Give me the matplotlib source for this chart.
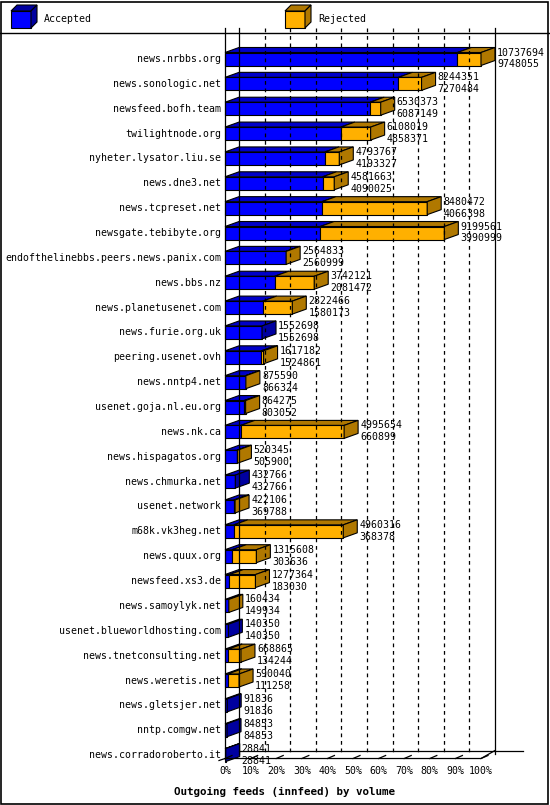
import matplotlib
matplotlib.use("Agg")
import matplotlib.pyplot as plt
from matplotlib.patches import Polygon, Rectangle

hosts = ["news.nrbbs.org", "news.sonologic.net", "newsfeed.bofh.team", "twilightnode.org",
         "nyheter.lysator.liu.se", "news.dne3.net", "news.tcpreset.net", "newsgate.tebibyte.org",
         "endofthelinebbs.peers.news.panix.com", "news.bbs.nz", "news.planetusenet.com",
         "news.furie.org.uk", "peering.usenet.ovh", "news.nntp4.net", "usenet.goja.nl.eu.org",
         "news.nk.ca", "news.hispagatos.org", "news.chmurka.net", "usenet.network",
         "m68k.vk3heg.net", "news.quux.org", "newsfeed.xs3.de", "news.samoylyk.net",
         "usenet.blueworldhosting.com", "news.tnetconsulting.net", "news.weretis.net",
         "news.gletsjer.net", "nntp.comgw.net", "news.corradoroberto.it"]
offered = [10737694, 8244351, 6530373, 6108019, 4793767, 4581663, 8480472, 9199561,
           2564833, 3742121, 2822466, 1552698, 1617182, 875590, 864275, 4995654, 520345,
           432766, 422106, 4960316, 1315608, 1277364, 160434, 140350, 668865, 590040,
           91836, 84853, 28841]
accepted = [9748055, 7270484, 6087149, 4858371, 4193327, 4090025, 4066398, 3990999,
            2560999, 2081472, 1580173, 1552698, 1524861, 866324, 803052, 660899, 505900,
            432766, 369788, 368378, 303636, 183030, 149934, 140350, 134244, 111258,
            91836, 84853, 28841]
ticks = [0, 10, 20, 30, 40, 50, 60, 70, 80, 90, 100]

W, H = 550, 805
fig = plt.figure(figsize=(W / 100, H / 100), dpi=100)
# axes: x in percent (0..100 -> px x0..x100), y in rows (row i centered at px 59 + i*24.86)
x0, x100 = 225, 481
y_first, step = 59, 24.86
n = len(hosts)
ax = fig.add_axes([x0 / W, 1 - (y_first + (n - 0.5) * step) / H,
                   (x100 - x0) / W, (n * step) / H])
ax.set_xlim(0, 100)
ax.set_ylim(n - 0.5, -0.5)
ax.axis("off")

ppx = 100 / (x100 - x0)      # percent per pixel
prow = 1 / step              # rows per pixel
DX, DY = 14 * ppx, 5 * prow
HH = 6.5 * prow              # half height of front face

mono = "DejaVu Sans Mono"
fs = 7.1

BLUE, BLUE_TOP, BLUE_SIDE = "#0000ff", "#0000c8", "#0000a0"
ORG, ORG_TOP = "#ffb000", "#b07800"

def poly(pts, fc):
    ax.add_patch(Polygon(pts, closed=True, fc=fc, ec="black", lw=0.8, clip_on=False))

# back wall gridlines
top_row, bot_row = -0.5 - 19 * prow, n - 0.5 - 14 * prow
for t in ticks:
    xb = t + DX
    ls = "-" if t in (0, 100) else (0, (3, 3))
    ax.plot([xb, xb], [top_row, bot_row], color="black", lw=0.9, ls=ls, clip_on=False)
# floor
yf = n - 0.5 - 9 * prow
ax.plot([-6 * ppx, 0, 100, 100 + DX], [yf + 2 * prow, yf, yf, yf - DY - 3 * prow],
        color="black", lw=0.9, clip_on=False)
ax.plot([DX, 100 + DX + 28 * ppx], [yf - DY - 3 * prow] * 2, color="black", lw=0.9, clip_on=False)
for t in ticks:
    ax.plot([t, t + DX * 0.5], [yf, yf - DY * 0.6], color="black", lw=0.9, clip_on=False)
    ax.text(t, yf + 12 * prow, f"{t}%", family=mono, fontsize=fs, ha="center", va="center")
ax.plot([0, 0], [top_row, yf], color="black", lw=0.9, clip_on=False)

vmax = max(offered)
for i, (h, o, a) in enumerate(zip(hosts, offered, accepted)):
    tp = o / vmax * 100
    ap = a / vmax * 100
    y1, y2 = i - HH, i + HH
    segs = [(0, ap, BLUE, BLUE_TOP)]
    if o > a:
        segs.append((ap, tp, ORG, ORG_TOP))
    for s, e, fc, tc in segs:
        poly([(s, y1), (e, y1), (e + DX, y1 - DY), (s + DX, y1 - DY)], tc)
        poly([(s, y1), (e, y1), (e, y2), (s, y2)], fc)
    side = ORG_TOP if o > a else BLUE_SIDE
    poly([(tp, y1), (tp + DX, y1 - DY), (tp + DX, y2 - DY), (tp, y2)], side)
    ax.text(-4 * ppx, i, h, family=mono, fontsize=fs, ha="right", va="center")
    ax.text(tp + DX + 2 * ppx, i - 0.26, str(o), family=mono, fontsize=fs, ha="left", va="center")
    ax.text(tp + DX + 2 * ppx, i + 0.22, str(a), family=mono, fontsize=fs, ha="left", va="center")

fig.text(284 / W, 1 - 792 / H, "Outgoing feeds (innfeed) by volume",
         family=mono, fontsize=7.8, weight="bold", ha="center", va="center")

# border and legend
fig.add_artist(Rectangle((1 / W, 1 / H), (W - 3) / W, (H - 3) / H, transform=fig.transFigure,
                         fill=False, ec="black", lw=1.2))
fig.add_artist(plt.Line2D([0, 1], [1 - 33 / H] * 2, transform=fig.transFigure, color="black", lw=1))

def legend_box(px, fc, tc, label):
    tr = fig.transFigure
    def P(x, y):
        return (x / W, 1 - y / H)
    for pts, c in [([P(px, 11), P(px + 20, 11), P(px + 20, 28), P(px, 28)], fc),
                   ([P(px, 11), P(px + 6, 5), P(px + 26, 5), P(px + 20, 11)], tc),
                   ([P(px + 20, 11), P(px + 26, 5), P(px + 26, 22), P(px + 20, 28)], tc)]:
        fig.add_artist(Polygon(pts, closed=True, fc=c, ec="black", lw=0.8, transform=tr))
    fig.text((px + 33) / W, 1 - 19 / H, label, family=mono, fontsize=fs, va="center")

legend_box(11, BLUE, BLUE_SIDE, "Accepted")
legend_box(285, ORG, ORG_TOP, "Rejected")

fig.savefig("out.png", dpi=100)
